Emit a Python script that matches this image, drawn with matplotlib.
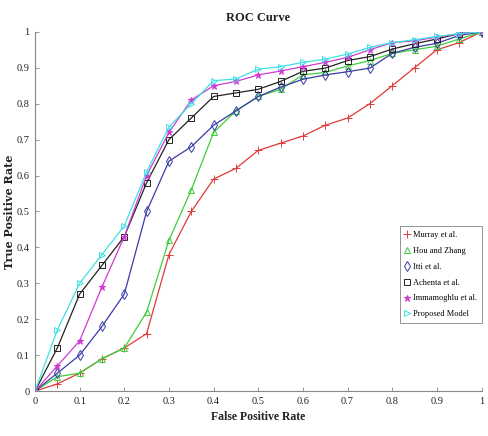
import matplotlib
matplotlib.use("Agg")
import matplotlib.pyplot as plt
from matplotlib.lines import Line2D

fpr = [0, 0.05, 0.1, 0.15, 0.2, 0.25, 0.3, 0.35, 0.4, 0.45, 0.5,
       0.55, 0.6, 0.65, 0.7, 0.75, 0.8, 0.85, 0.9, 0.95, 1.0]

murray = [0, 0.02, 0.05, 0.09, 0.12, 0.16, 0.38, 0.50, 0.59, 0.62, 0.67,
          0.69, 0.71, 0.74, 0.76, 0.80, 0.85, 0.90, 0.95, 0.97, 1.0]
hou = [0, 0.04, 0.05, 0.09, 0.12, 0.22, 0.42, 0.56, 0.72, 0.78, 0.82,
       0.84, 0.88, 0.887, 0.905, 0.92, 0.94, 0.95, 0.96, 0.98, 1.0]
itti = [0, 0.05, 0.10, 0.18, 0.27, 0.50, 0.64, 0.68, 0.74, 0.78, 0.82,
        0.846, 0.868, 0.88, 0.889, 0.899, 0.94, 0.957, 0.968, 0.99, 1.0]
achanta = [0, 0.12, 0.27, 0.35, 0.43, 0.58, 0.70, 0.76, 0.82, 0.83, 0.84,
           0.862, 0.89, 0.899, 0.92, 0.931, 0.952, 0.967, 0.98, 0.995, 1.0]
imam = [0, 0.07, 0.14, 0.29, 0.43, 0.60, 0.72, 0.81, 0.85, 0.862, 0.88,
        0.891, 0.903, 0.915, 0.929, 0.95, 0.97, 0.975, 0.985, 0.995, 1.0]
proposed = [0, 0.17, 0.30, 0.38, 0.46, 0.61, 0.735, 0.80, 0.864, 0.869, 0.896,
            0.903, 0.915, 0.924, 0.938, 0.957, 0.97, 0.978, 0.987, 0.995, 1.0]

labels = ["Murray et al.", "Hou and Zhang", "Itti et al.", "Achenta et al.",
          "Immamoghlu et al.", "Proposed Model"]
series = [murray, hou, itti, achanta, imam, proposed]
colors = ["#e03a3a", "#3ccf3c", "#3a3aa8", "#222222", "#d03ad0", "#3ee0e6"]
markers = ["+", "^", "d", "s", "*", ">"]
msizes = [5.5, 5, 5, 4, 4.5, 5]

xticks = [0, 0.1, 0.2, 0.3, 0.4, 0.5, 0.6, 0.7, 0.8, 0.9, 1]
xticklabels = ["0", "0.1", "0.2", "0.3", "0.4", "0.5", "0.6", "0.7", "0.8", "0.9", "1"]
yticks = [0, 0.1, 0.2, 0.3, 0.4, 0.5, 0.6, 0.7, 0.8, 0.9, 1]
yticklabels = ["0", "0.1", "0.2", "0.3", "0.4", "0.5", "0.6", "0.7", "0.8", "0.9", "1"]

serif = "Liberation Serif"

fig = plt.figure(figsize=(4.88, 4.36), dpi=100)
ax = fig.add_axes([0.0717, 0.103, 0.915, 0.824])

for ys, c, m, ms, lab in zip(series, colors, markers, msizes, labels):
    filled = m in ("+", "*")
    ax.plot(fpr, ys, color=c, lw=0.9, marker=m, markersize=ms,
            markerfacecolor=c if filled else "none", markeredgecolor=c,
            markeredgewidth=0.7, label=lab)

ax.set_xlim(0, 1)
ax.set_ylim(0, 1)
ax.set_xticks(xticks)
ax.set_xticklabels(xticklabels, fontfamily=serif, fontsize=7.5)
ax.set_yticks(yticks)
ax.set_yticklabels(yticklabels, fontfamily=serif, fontsize=7.5)
ax.tick_params(direction="in", length=3, width=0.6, colors="#888888", labelcolor="#222222", pad=4)
for s in ("top", "right"):
    ax.spines[s].set_visible(False)
for s in ("left", "bottom"):
    ax.spines[s].set_color("#888888")
    ax.spines[s].set_linewidth(0.8)

ax.set_title("ROC Curve", fontfamily=serif, fontsize=9, fontweight="bold", color="#222222", pad=8)
ax.set_xlabel("False Positive Rate", fontfamily=serif, fontsize=8.5, fontweight="bold", color="#222222", labelpad=4)
ax.set_ylabel("True Positive Rate", fontfamily="DejaVu Serif", fontsize=8, fontweight="bold", color="#222222", labelpad=1)

handles = [Line2D([], [], linestyle="none", marker=m, color=c, markersize=ms,
                  markerfacecolor=c if m in ("+", "*") else "none", markeredgewidth=0.7)
           for c, m, ms in zip(colors, markers, msizes)]
leg = ax.legend(handles, labels, loc="upper left", bbox_to_anchor=(0.817, 0.46),
                prop={"family": serif, "size": 6}, frameon=True, fancybox=False,
                handlelength=0.6, handletextpad=0.4, labelspacing=0.95, borderpad=0.6,
                borderaxespad=0)
leg.get_frame().set_edgecolor("#666666")
leg.get_frame().set_linewidth(0.6)

fig.savefig("out.png", dpi=100)
